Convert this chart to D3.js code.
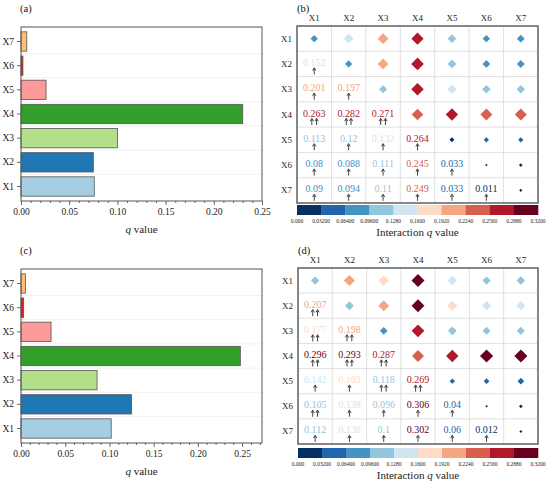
<!DOCTYPE html>
<html>
<head>
<meta charset="utf-8">
<script src="https://cdn.jsdelivr.net/npm/d3@7"></script>
<style>
  body { margin: 0; background: #fff; }
  svg { display: block; font-family: 'Liberation Serif', 'Times New Roman', serif; }
</style>
</head>
<body>
<svg id="chart" width="550" height="489"></svg>
<script>
// factor names
const factors = ['X1', 'X2', 'X3', 'X4', 'X5', 'X6', 'X7']

// single-factor q values
const qA = [0.076, 0.075, 0.1, 0.23, 0.026, 0.002, 0.006]
const qC = [0.102, 0.125, 0.086, 0.248, 0.034, 0.003, 0.005]

// interaction q values, lower triangle (row i, columns 0..i-1)
const interB = [
  [],
  [0.152],
  [0.201, 0.197],
  [0.263, 0.282, 0.271],
  [0.113, 0.12, 0.132, 0.264],
  [0.08, 0.088, 0.111, 0.245, 0.033],
  [0.09, 0.094, 0.11, 0.249, 0.033, 0.011]
]
const interD = [
  [],
  [0.207],
  [0.177, 0.198],
  [0.296, 0.293, 0.287],
  [0.142, 0.169, 0.118, 0.269],
  [0.105, 0.138, 0.096, 0.306, 0.04],
  [0.112, 0.138, 0.1, 0.302, 0.06, 0.012]
]

// 1 = nonlinear enhance (one arrow), 2 = bi-enhance (two arrows)
const enhanceB = [
  [],
  [1],
  [1, 1],
  [2, 2, 2],
  [1, 1, 1, 1],
  [1, 1, 1, 1, 1],
  [1, 1, 1, 1, 1, 1]
]
const enhanceD = [
  [],
  [2],
  [2, 2],
  [2, 2, 2],
  [1, 1, 2, 2],
  [2, 1, 1, 1, 1],
  [1, 1, 1, 1, 1, 1]
]

// colour bar
const cbTicks = [0, 0.032, 0.064, 0.096, 0.128, 0.16, 0.192, 0.224, 0.256, 0.288, 0.32]
const cbLabels = ['0.000', '0.03200', '0.06400', '0.09600', '0.1280', '0.1600', '0.1920', '0.2240', '0.2560', '0.2880', '0.3200']

const barTicks = [0, 0.05, 0.1, 0.15, 0.2, 0.25]

const svg = d3.select('#chart')
const barColors = d3.schemePaired.slice(0, 7)
const colorScale = d3.scaleThreshold()
  .domain(cbTicks.slice(1, -1))
  .range(d3.schemeRdBu[10].slice().reverse())
const sizeScale = d3.scaleSqrt().domain([0, 0.32]).range([1.5, 13.4])

function barPanel (opts) {
  const { left, right, top, bottom, xMax, values, tag } = opts
  const g = svg.append('g')
  const x = d3.scaleLinear().domain([0, xMax]).range([left, right])
  const y = d3.scaleBand().domain(factors.slice().reverse()).range([top, bottom]).padding(0.2)

  // faint grid at band edges
  g.selectAll('line.grid')
    .data(factors.slice(1))
    .enter()
    .append('line')
    .attr('x1', left)
    .attr('x2', right)
    .attr('y1', d => y(d) + y.bandwidth() + y.step() * y.paddingInner() / 2)
    .attr('y2', d => y(d) + y.bandwidth() + y.step() * y.paddingInner() / 2)
    .attr('stroke', '#ececec')
    .attr('stroke-width', 0.8)

  g.selectAll('rect.bar')
    .data(values)
    .enter()
    .append('rect')
    .attr('x', x(0))
    .attr('y', (d, i) => y(factors[i]))
    .attr('width', d => x(d) - x(0))
    .attr('height', y.bandwidth())
    .attr('fill', (d, i) => barColors[i])
    .attr('stroke', '#555')
    .attr('stroke-width', 0.8)

  const minor = d3.range(0, xMax + 1e-9, 0.01).filter(v => Math.round(v * 100) % 5 !== 0)
  const axMinor = g.append('g')
    .attr('transform', `translate(0,${bottom})`)
    .call(d3.axisBottom(x).tickValues(minor).tickSize(2).tickFormat(''))
  const axX = g.append('g')
    .attr('transform', `translate(0,${bottom})`)
    .call(d3.axisBottom(x).tickValues(barTicks).tickSize(4).tickFormat(d3.format('.2f')))
  const axY = g.append('g')
    .attr('transform', `translate(${left},0)`)
    .call(d3.axisLeft(y).tickSize(4))
  ;[axMinor, axX, axY].forEach(a => {
    a.attr('font-family', null)
    a.select('.domain').remove()
    a.selectAll('line').attr('stroke', '#444').attr('stroke-width', 0.8)
    a.selectAll('text').attr('fill', '#222')
  })
  axX.selectAll('text').attr('font-size', '9.5px')
  axY.selectAll('text').attr('font-size', '9.5px')

  g.append('rect')
    .attr('x', left)
    .attr('y', top)
    .attr('width', right - left)
    .attr('height', bottom - top)
    .attr('fill', 'none')
    .attr('stroke', '#555')
    .attr('stroke-width', 1)

  const lab = g.append('text')
    .attr('x', (left + right) / 2)
    .attr('y', bottom + 32)
    .attr('text-anchor', 'middle')
    .attr('font-size', '11px')
    .attr('fill', '#222')
  lab.append('tspan').attr('font-style', 'italic').text('q')
  lab.append('tspan').text(' value')

  g.append('text')
    .attr('x', left - 1)
    .attr('y', top - 15)
    .attr('font-size', '10.5px')
    .attr('fill', '#111')
    .text(tag)
}

// small up arrow centred at dx, from y0 (tail) to y1 (tip)
function arrowPath (dx) {
  const p = d3.path()
  p.moveTo(dx, 10.5)
  p.lineTo(dx, 5)
  p.moveTo(dx - 1.6, 6.6)
  p.lineTo(dx, 3.8)
  p.lineTo(dx + 1.6, 6.6)
  return p.toString()
}

function matrixPanel (opts) {
  const { left, right, top, bottom, diag, inter, enhance, cbTop, tag } = opts
  const g = svg.append('g')
  const x = d3.scaleBand().domain(factors).range([left, right])
  const y = d3.scaleBand().domain(factors).range([top, bottom])

  // inner grid
  g.selectAll('line.v')
    .data(factors.slice(1))
    .enter()
    .append('line')
    .attr('x1', d => x(d))
    .attr('x2', d => x(d))
    .attr('y1', top)
    .attr('y2', bottom)
    .attr('stroke', '#d8d8d8')
    .attr('stroke-width', 0.8)
  g.selectAll('line.h')
    .data(factors.slice(1))
    .enter()
    .append('line')
    .attr('x1', left)
    .attr('x2', right)
    .attr('y1', d => y(d))
    .attr('y2', d => y(d))
    .attr('stroke', '#d8d8d8')
    .attr('stroke-width', 0.8)

  // diamonds: diagonal + upper triangle
  const cells = []
  factors.forEach((r, i) => {
    factors.forEach((c, j) => {
      if (j === i) cells.push({ r, c, v: diag[i] })
      if (j > i) cells.push({ r, c, v: inter[j][i] })
    })
  })
  g.selectAll('path.dia')
    .data(cells)
    .enter()
    .append('path')
    .attr('transform', d => `translate(${x(d.c) + x.bandwidth() / 2},${y(d.r) + y.bandwidth() / 2}) rotate(45)`)
    .attr('d', d => {
      const side = sizeScale(d.v) / Math.SQRT2
      return d3.symbol(d3.symbolSquare, side * side)()
    })
    .attr('fill', d => colorScale(d.v))

  // lower triangle values + arrows
  const low = []
  inter.forEach((row, i) => row.forEach((v, j) => low.push({ r: factors[i], c: factors[j], v, n: enhance[i][j] })))
  const lg = g.selectAll('g.low')
    .data(low)
    .enter()
    .append('g')
    .attr('transform', d => `translate(${x(d.c) + x.bandwidth() / 2},${y(d.r) + y.bandwidth() / 2})`)
  lg.append('text')
    .attr('text-anchor', 'middle')
    .attr('y', 2)
    .attr('font-size', '10px')
    .attr('fill', d => colorScale(d.v))
    .text(d => String(d.v))
  lg.append('path')
    .attr('d', d => d.n === 2 ? arrowPath(-2.4) + arrowPath(2.4) : arrowPath(0))
    .attr('fill', 'none')
    .attr('stroke', '#111')
    .attr('stroke-width', 0.8)

  // labels
  g.selectAll('text.col')
    .data(factors)
    .enter()
    .append('text')
    .attr('x', d => x(d) + x.bandwidth() / 2)
    .attr('y', top - 5)
    .attr('text-anchor', 'middle')
    .attr('font-size', '9px')
    .attr('fill', '#222')
    .text(d => d)
  g.selectAll('text.row')
    .data(factors)
    .enter()
    .append('text')
    .attr('x', left - 5)
    .attr('y', d => y(d) + y.bandwidth() / 2 + 3)
    .attr('text-anchor', 'end')
    .attr('font-size', '9px')
    .attr('fill', '#222')
    .text(d => d)

  g.append('rect')
    .attr('x', left)
    .attr('y', top)
    .attr('width', right - left)
    .attr('height', bottom - top)
    .attr('fill', 'none')
    .attr('stroke', '#555')
    .attr('stroke-width', 1.4)

  g.append('text')
    .attr('x', left)
    .attr('y', top - 14)
    .attr('font-size', '10.5px')
    .attr('fill', '#111')
    .text(tag)

  // colour bar
  const cb = d3.scaleLinear().domain([0, 0.32]).range([left, right])
  const cbH = 10
  g.selectAll('rect.cb')
    .data(cbTicks.slice(0, -1))
    .enter()
    .append('rect')
    .attr('x', d => cb(d))
    .attr('y', cbTop)
    .attr('width', (d, i) => cb(cbTicks[i + 1]) - cb(d) + 0.3)
    .attr('height', cbH)
    .attr('fill', d => colorScale(d + 0.001))
  g.selectAll('text.cbt')
    .data(cbTicks)
    .enter()
    .append('text')
    .attr('x', d => cb(d))
    .attr('y', cbTop + cbH + 8)
    .attr('text-anchor', 'middle')
    .attr('font-size', '5.5px')
    .attr('fill', '#222')
    .text((d, i) => cbLabels[i])
  const t = g.append('text')
    .attr('x', (left + right) / 2)
    .attr('y', cbTop + cbH + 21)
    .attr('text-anchor', 'middle')
    .attr('font-size', '11px')
    .attr('fill', '#222')
  t.append('tspan').text('Interaction ')
  t.append('tspan').attr('font-style', 'italic').text('q')
  t.append('tspan').text(' value')
}

barPanel({ left: 21, right: 262, top: 27, bottom: 201, xMax: 0.25, values: qA, tag: '(a)' })
barPanel({ left: 21, right: 262, top: 269, bottom: 443, xMax: 0.2725, values: qC, tag: '(c)' })
matrixPanel({ left: 297, right: 538, top: 26, bottom: 203, diag: qA, inter: interB, enhance: enhanceB, cbTop: 205, tag: '(b)' })
matrixPanel({ left: 298, right: 538, top: 268, bottom: 444, diag: qC, inter: interD, enhance: enhanceD, cbTop: 448, tag: '(d)' })
</script>
</body>
</html>
